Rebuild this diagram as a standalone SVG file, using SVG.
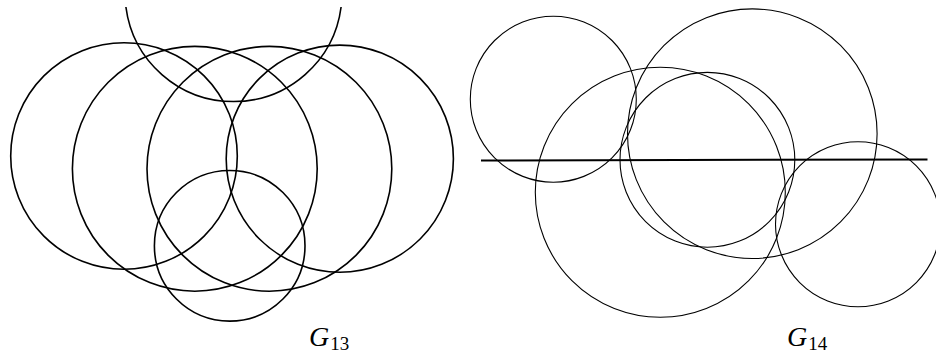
<svg xmlns="http://www.w3.org/2000/svg" width="936" height="356" viewBox="0 0 936 356">
<style>
.l{fill:none;stroke:#000;stroke-width:1.6}
.r{fill:none;stroke:#000;stroke-width:1.1}
.g{font-family:"Liberation Serif",serif;font-style:italic;font-size:28px;fill:#000}
.s{font-family:"Liberation Serif",serif;font-style:normal;font-size:19px;fill:#000}
</style>
<rect width="936" height="356" fill="#fff"/>
<g id="G13">
<g id="n13-top"><path class="l" d="M125.9,7 A108.5,108.5 0 0 0 341.1,7"/></g>
<g id="n13-a"><circle class="l" cx="124" cy="156" r="113.3"/></g>
<g id="n13-b"><circle class="l" cx="194.8" cy="168.8" r="122.4"/></g>
<g id="n13-c"><circle class="l" cx="269.4" cy="168.8" r="122.4"/></g>
<g id="n13-d"><circle class="l" cx="339.8" cy="158.7" r="113.6"/></g>
<g id="n13-e"><circle class="l" cx="229.7" cy="245.8" r="75.3"/></g>
<text class="g" x="309" y="346">G<tspan class="s" dx="1" dy="4">13</tspan></text>
</g>
<g id="G14">
<g id="n14-a"><circle class="r" cx="553.3" cy="99.2" r="83"/></g>
<g id="n14-b"><circle class="r" cx="752.3" cy="133.7" r="124.8"/></g>
<g id="n14-c"><circle class="r" cx="660.3" cy="192.3" r="125"/></g>
<g id="n14-d"><circle class="r" cx="707.4" cy="159.8" r="87.4"/></g>
<g id="n14-e"><circle class="r" cx="858" cy="224.2" r="82.5"/></g>
<g id="connectors"><line x1="481" y1="160.5" x2="927.5" y2="159.5" stroke="#000" stroke-width="2"/></g>
<text class="g" x="787" y="346">G<tspan class="s" dx="1" dy="4">14</tspan></text>
</g>
</svg>
